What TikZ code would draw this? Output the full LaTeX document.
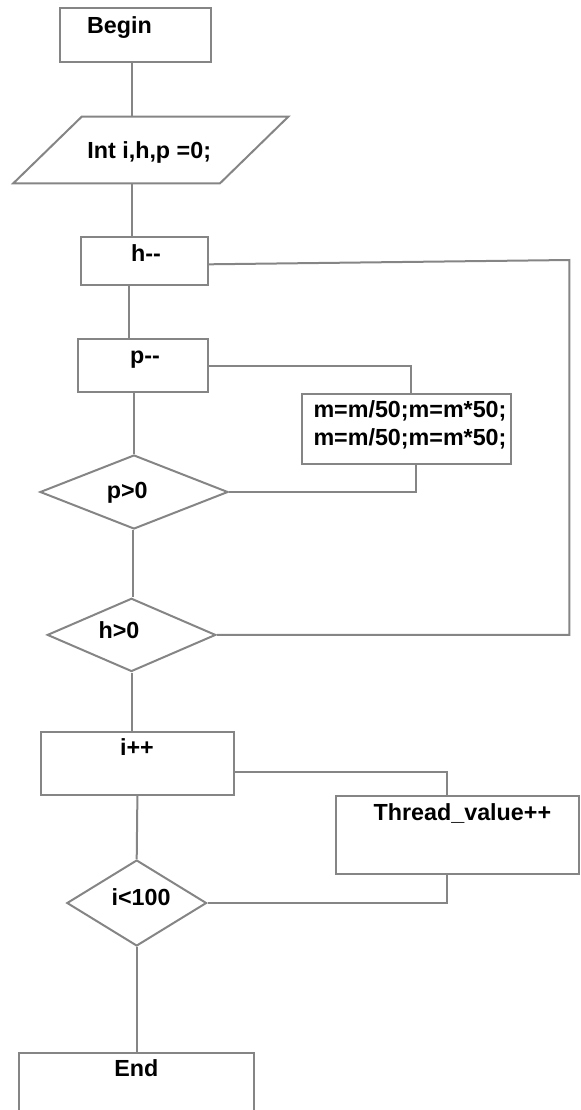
\documentclass[tikz,border=0pt]{standalone}
\usepackage{fontspec}
\setmainfont{Liberation Sans}[Ligatures=NoCommon]
\usetikzlibrary{shapes.geometric}
\definecolor{linegray}{HTML}{858585}
\tikzset{
  box/.style={draw=linegray, line width=1pt, rectangle, inner sep=0pt},
  dia/.style={draw=linegray, line width=1pt, diamond, inner sep=0pt},
  txt/.style={anchor=base, inner sep=0pt, font=\fontsize{11.65}{14.15}\selectfont\bfseries, text=black, align=center},
  conn/.style={draw=linegray, line width=1pt}
}
\begin{document}
\begin{tikzpicture}[x=0.5pt, y=-0.5pt]
\useasboundingbox (0,0) rectangle (580,1110);
% boxes
\node[box, minimum width=75.5pt, minimum height=26.7pt] (begin) at (135.5,35) {};
\coordinate (p1) at (81.7,116.7);
\coordinate (p2) at (288.3,116.7);
\coordinate (p3) at (220,183.3);
\coordinate (p4) at (13.3,183.3);
\draw[conn] (p1) -- (p2) -- (p3) -- (p4) -- cycle;
\coordinate (intop) at (131.7,116.7);
\coordinate (inbot) at (131.8,183.3);
\node[box, minimum width=63.5pt, minimum height=24.3pt] (hm) at (144.5,261) {};
\node[box, minimum width=64.9pt, minimum height=26.65pt] (pm) at (143.3,365.7) {};
\node[box, minimum width=104.55pt, minimum height=35.15pt] (mb) at (406.9,428.9) {};
\node[dia, minimum width=94pt, minimum height=37pt] (pgt) at (134,492) {};
\node[dia, minimum width=84.25pt, minimum height=36.6pt] (hgt) at (131.5,634.9) {};
\node[box, minimum width=96.85pt, minimum height=31.65pt] (ip) at (137.4,763.4) {};
\node[box, minimum width=121.35pt, minimum height=39.15pt] (tv) at (457.7,834.9) {};
\node[dia, minimum width=69.85pt, minimum height=43pt] (ilt) at (136.7,903) {};
\node[box, minimum width=117.5pt, minimum height=38.65pt] (end) at (136.5,1091.4) {};
% texts
\node[txt] (tbegin) at (119.5,33.3) {Begin};
\node[txt] (tint) at (149.2,158.3) {Int i,h,p =0;};
\node[txt] (thm) at (146,261.7) {h-{}-};
\node[txt] (tpm) at (145,363.7) {p-{}-};
\node[txt] (tmb1) at (410,417.3) {m=m/50;m=m*50;};
\node[txt] (tmb2) at (410,445.7) {m=m/50;m=m*50;};
\node[txt] (tpgt) at (127.3,498.5) {p>0};
\node[txt] (thgt) at (119,638.5) {h>0};
\node[txt] (tip) at (137,755) {i++};
\node[txt] (ttv) at (462.4,820) {Thread\_value++};
\node[txt] (tilt) at (141,905) {i<100};
\node[txt] (tend) at (136.3,1076.7) {End};
% spine connectors
\coordinate (s3) at (129.3,0);
\coordinate (s5) at (133,0);
\draw[conn] (intop |- begin.south) -- (intop);
\draw[conn] (inbot) -- (inbot |- hm.north);
\draw[conn] (hm.south -| s3) -- (pm.north -| s3);
\draw[conn] (pm.south -| pgt.north) -- (pgt.north);
\draw[conn] (pgt.south -| s5) -- (hgt.north -| s5);
\draw[conn] (hgt.south) -- (hgt.south |- ip.north);
\draw[conn] (ip.south) -- (ilt.north);
\draw[conn] (ilt.south) -- (ilt.south |- end.north);
% side connectors
\coordinate (rt) at (569.3,260);
\draw[conn] ([yshift=-1.65pt]hm.east) -- (rt) |- (hgt.east);
\draw[conn] (pm.east) -| ([xshift=2.25pt]mb.north);
\draw[conn] ([xshift=4.7pt]mb.south) |- (pgt.east);
\draw[conn] ([yshift=-4.45pt]ip.east) -| ([xshift=-5.45pt]tv.north);
\draw[conn] ([xshift=-5.45pt]tv.south) |- (ilt.east);
\end{tikzpicture}
\end{document}
